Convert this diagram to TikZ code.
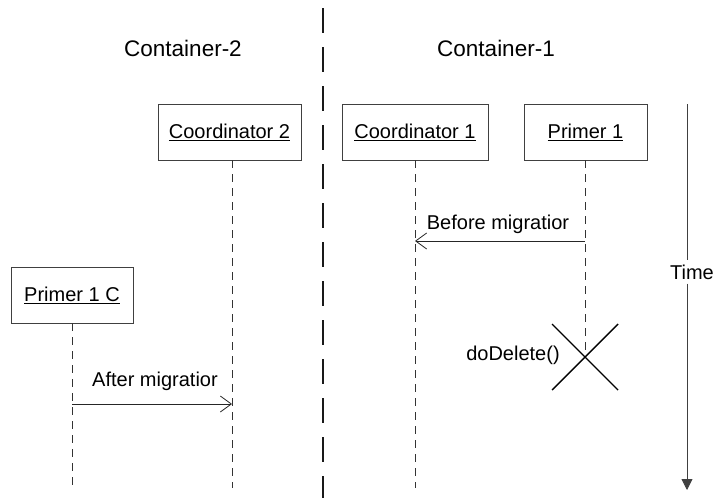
\documentclass[tikz,border=0pt]{standalone}
\usepackage{fontspec}
\setmainfont{Liberation Sans}
\usetikzlibrary{arrows.meta,calc}
\begin{document}
\begin{tikzpicture}[x=1pt,y=-1pt,
  objbox/.style={draw=black!75,line width=0.8pt,minimum height=56pt,inner sep=0pt,font=\fontsize{20}{24}\selectfont},
  lifeline/.style={draw=black!80,line width=0.7pt,dash pattern=on 8pt off 6pt},
  msg/.style={draw=black!85,line width=0.8pt,-{Straight Barb[length=11pt,width=16pt,line width=0.8pt]}},
  lbl/.style={font=\fontsize{20}{24}\selectfont,inner sep=1pt},
  header/.style={font=\fontsize{22.5}{26}\selectfont}]
\useasboundingbox (0,0) rectangle (717,498);
\fill[white] (0,0) rectangle (717,498);

% container separator
\draw[line width=2pt,black!90,dash pattern=on 25pt off 14pt] (323,8) -- (323,498);

% container titles
\node[header] (c2) at (183,48) {Container-2};
\node[header] (c1) at (496,48) {Container-1};

% participant boxes
\node[objbox,minimum width=143pt] (coord2) at (229.5,132) {\underline{Coordinator 2}};
\node[objbox,minimum width=146pt] (coord1) at (415,132) {\underline{Coordinator 1}};
\node[objbox,minimum width=123pt] (primer1) at (585.5,132) {\underline{Primer 1}};
\node[objbox,minimum width=122pt] (primer1c) at (72,295) {\underline{Primer 1 C}};

% lifeline ends and message points
\coordinate (coord2end) at (232,488);
\coordinate (coord1end) at (415,488);
\coordinate (primer1cend) at (72,488);
\coordinate (death) at (585,357);
\coordinate (bm1) at (585,241);
\coordinate (bm2) at (415,241);
\coordinate (am1) at (72,404);
\coordinate (am2) at (232,404);

% lifelines
\draw[lifeline] (coord2.south -| coord2end) -- (coord2end);
\draw[lifeline] (coord1.south) -- (coord1end);
\draw[lifeline] (primer1.south -| death) -- (death);
\draw[lifeline] (primer1c.south) -- (primer1cend);

% messages
\draw[msg] (bm1) -- (bm2);
\node[lbl] (bmlbl) at (498,224) {Before migratior};
\draw[msg] (am1) -- (am2);
\node[lbl] (amlbl) at (155,381) {After migratior};

% destruction
\draw[line width=1.4pt] ($(death)+(-33,-33)$) -- ($(death)+(33,33)$);
\draw[line width=1.4pt] ($(death)+(33,-33)$) -- ($(death)+(-33,33)$);
\node[lbl] (del) at (513,355) {doDelete()};

% time axis
\coordinate (ttop) at (687,104);
\coordinate (tbot) at (687,490);
\node[lbl,fill=white,inner sep=4pt] (time) at (692,272) {Time};
\draw[black!75,line width=0.8pt] (ttop) -- (time.north -| ttop);
\draw[black!75,line width=0.8pt,-{Triangle[length=11pt,width=11pt]}] (time.south -| ttop) -- (tbot);
\end{tikzpicture}
\end{document}
